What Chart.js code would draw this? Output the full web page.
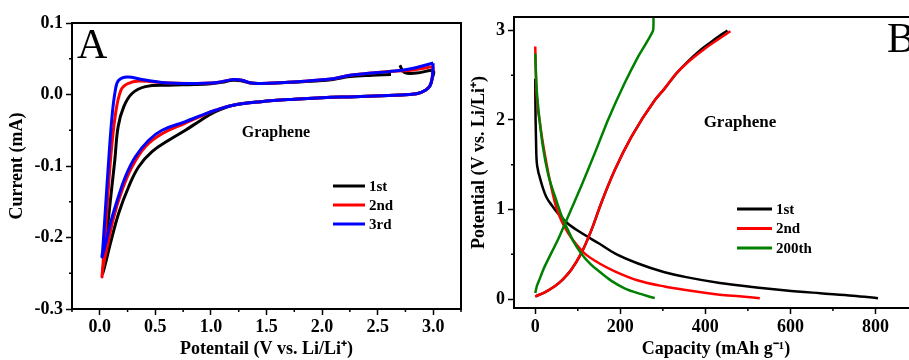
<!DOCTYPE html>
<html lang="en">
<head>
<meta charset="UTF-8">
<title>Graphene CV and charge-discharge</title>
<script src="https://cdn.jsdelivr.net/npm/chart.js@4.4.1/dist/chart.umd.min.js"></script>
<style>
    body { margin: 0; width: 909px; height: 360px; overflow: hidden; position: relative; background: #fff; }
    canvas { position: absolute; top: 0; }
    #cvChart { left: 0; }
    #gcdChart { left: 465px; }
</style>
</head>
<body>
<canvas id="cvChart" width="470" height="360"></canvas>
<canvas id="gcdChart" width="462" height="360"></canvas>

<script>
// ---- panel A : cyclic voltammetry (potential V, current mA) ----
const cycleLabelsA = ['1st', '2nd', '3rd'];
const cycleColorsA = ['#000000', '#ff0000', '#0000ff'];

const cv1Potential = [2.70, 2.74, 2.85, 3.00, 2.99, 2.97, 2.93, 2.85, 2.65, 2.30, 2.00, 1.75, 1.45, 1.20, 1.04, 0.90, 0.77, 0.62, 0.47, 0.35, 0.26, 0.17, 0.096, 0.045, 0.025,
    0.04, 0.08, 0.135, 0.165, 0.216, 0.29, 0.41, 0.62, 0.85, 1.00, 1.10, 1.20, 1.28, 1.36, 1.45, 1.70, 1.95, 2.10, 2.25, 2.45, 2.62];
const cv1Current = [0.041, 0.031, 0.030, 0.033, 0.022, 0.012, 0.006, 0.001, -0.001, -0.003, -0.0045, -0.0065, -0.010, -0.015, -0.024, -0.037, -0.050, -0.064, -0.080, -0.101, -0.129, -0.166, -0.208, -0.240, -0.250,
    -0.232, -0.170, -0.092, -0.045, -0.017, 0.0014, 0.011, 0.013, 0.014, 0.0152, 0.017, 0.020, 0.019, 0.016, 0.0155, 0.017, 0.019, 0.021, 0.025, 0.027, 0.028];

const cv2Potential = [3.00, 2.99, 2.97, 2.93, 2.85, 2.65, 2.30, 2.00, 1.75, 1.45, 1.20, 1.04, 0.90, 0.77, 0.56, 0.41, 0.29, 0.20, 0.126, 0.067, 0.03, 0.02,
    0.03, 0.06, 0.096, 0.14, 0.19, 0.25, 0.35, 0.62, 0.85, 1.00, 1.10, 1.20, 1.28, 1.36, 1.45, 1.70, 1.95, 2.10, 2.25, 2.45, 2.60, 2.80, 3.00];
const cv2Current = [0.039, 0.022, 0.012, 0.006, 0.001, -0.001, -0.003, -0.0045, -0.0065, -0.010, -0.015, -0.022, -0.031, -0.040, -0.055, -0.073, -0.101, -0.134, -0.171, -0.213, -0.241, -0.255,
    -0.235, -0.170, -0.092, -0.029, 0.006, 0.015, 0.019, 0.016, 0.0155, 0.016, 0.018, 0.021, 0.020, 0.016, 0.0155, 0.017, 0.020, 0.022, 0.027, 0.030, 0.032, 0.034, 0.039];

const cv3Potential = [3.00, 2.99, 2.97, 2.93, 2.85, 2.65, 2.30, 2.00, 1.75, 1.45, 1.20, 1.04, 0.90, 0.77, 0.56, 0.44, 0.32, 0.23, 0.157, 0.096, 0.045, 0.02,
    0.025, 0.05, 0.08, 0.11, 0.14, 0.17, 0.25, 0.38, 0.62, 0.85, 1.00, 1.10, 1.20, 1.28, 1.36, 1.45, 1.70, 1.95, 2.10, 2.25, 2.45, 2.60, 2.80, 3.00];
const cv3Current = [0.044, 0.022, 0.012, 0.006, 0.001, -0.001, -0.003, -0.0045, -0.0065, -0.010, -0.015, -0.022, -0.030, -0.038, -0.050, -0.064, -0.087, -0.115, -0.148, -0.180, -0.213, -0.227,
    -0.220, -0.162, -0.092, -0.031, 0.006, 0.020, 0.0246, 0.021, 0.016, 0.0155, 0.016, 0.018, 0.021, 0.020, 0.016, 0.0155, 0.017, 0.020, 0.022, 0.027, 0.030, 0.032, 0.036, 0.044];

const xTicksA = [0, 0.5, 1.0, 1.5, 2.0, 2.5, 3.0];
const xMinorA = [-0.25, 0.25, 0.75, 1.25, 1.75, 2.25, 2.75, 3.25];
const yTicksA = [-0.3, -0.2, -0.1, 0.0, 0.1];
const yMinorA = [-0.25, -0.15, -0.05, 0.05];

// ---- panel B : charge / discharge (capacity mAh/g, potential V) ----
const cycleLabelsB = ['1st', '2nd', '200th'];
const cycleColorsB = ['#000000', '#ff0000', '#008000'];

const dis1Capacity = [0, 0.3, 0.8, 2.4, 6, 10, 18, 26, 40, 53, 75, 108, 150, 187, 240, 304, 355, 434, 520, 590, 670, 747, 806];
const dis1Potential = [2.46, 2.20, 2.00, 1.63, 1.45, 1.37, 1.24, 1.14, 1.04, 0.96, 0.85, 0.74, 0.62, 0.51, 0.40, 0.30, 0.245, 0.18, 0.13, 0.096, 0.065, 0.037, 0.01];
const chg1Capacity = [0, 20, 45, 65, 85, 108, 132, 155, 187, 226, 281, 304, 332, 358, 388, 422, 452];
const chg1Potential = [0.03, 0.07, 0.14, 0.22, 0.33, 0.51, 0.77, 1.07, 1.44, 1.81, 2.22, 2.35, 2.52, 2.65, 2.78, 2.90, 3.00];

const dis2Capacity = [0, 1, 2.4, 5, 10, 16, 22, 34, 49, 62, 77, 95, 116, 150, 187, 240, 304, 355, 434, 480, 528];
const dis2Potential = [2.82, 2.60, 2.37, 2.17, 2.00, 1.80, 1.63, 1.33, 1.03, 0.87, 0.74, 0.62, 0.51, 0.40, 0.31, 0.21, 0.14, 0.10, 0.048, 0.03, 0.01];
const chg2Capacity = [0, 20, 45, 65, 85, 108, 132, 155, 187, 226, 281, 304, 332, 360, 394, 430, 459];
const chg2Potential = [0.03, 0.07, 0.14, 0.22, 0.33, 0.51, 0.77, 1.07, 1.44, 1.81, 2.22, 2.35, 2.52, 2.65, 2.78, 2.90, 2.99];

const dis200Capacity = [0, 2, 6, 12, 18, 30, 49, 62, 77, 90, 108, 130, 155, 180, 210, 245, 281];
const dis200Potential = [2.74, 2.45, 2.19, 1.92, 1.70, 1.40, 1.11, 0.93, 0.77, 0.64, 0.51, 0.39, 0.29, 0.20, 0.12, 0.06, 0.01];
const chg200Capacity = [0, 4, 10, 20, 30, 53, 77, 108, 140, 171, 210, 241, 277, 277];
const chg200Potential = [0.067, 0.15, 0.22, 0.34, 0.44, 0.66, 0.92, 1.26, 1.63, 2.00, 2.41, 2.70, 3.00, 3.30];

const xTicksB = [0, 200, 400, 600, 800];
const xMinorB = [100, 300, 500, 700];
const yTicksB = [0, 1, 2, 3];
const yMinorB = [0.5, 1.5, 2.5];

function pts(xs, ys) {
    return xs.map((x, i) => ({ x: x, y: ys[i] }));
}

// smooth: 'monotone' or a bezier tension
function line(label, xs, ys, color, order, width, smooth) {
    const ds = {
        label: label,
        data: pts(xs, ys),
        showLine: true,
        borderColor: color,
        backgroundColor: color,
        borderWidth: width,
        pointRadius: 0,
        order: order
    };
    if (smooth === 'monotone') {
        ds.cubicInterpolationMode = 'monotone';
    } else {
        ds.tension = smooth;
    }
    return ds;
}

Chart.defaults.font.family = '"Liberation Serif", "Times New Roman", serif';
Chart.defaults.font.weight = 'bold';
Chart.defaults.font.size = 18;
Chart.defaults.color = '#000';

// frame, minor ticks, panel letter, note and legend
const decor = {
    id: 'decor',
    afterDraw(chart, args, o) {
        const ctx = chart.ctx;
        const a = chart.chartArea;
        const sx = chart.scales.x, sy = chart.scales.y;
        ctx.save();
        ctx.strokeStyle = '#000';
        ctx.lineWidth = 2;
        ctx.strokeRect(a.left, a.top, a.right - a.left, a.bottom - a.top);

        ctx.lineWidth = 1.5;
        ctx.beginPath();
        (o.minorX || []).forEach(v => {
            const x = sx.getPixelForValue(v);
            ctx.moveTo(x, a.bottom);
            ctx.lineTo(x, a.bottom + 3);
        });
        (o.minorY || []).forEach(v => {
            const y = sy.getPixelForValue(v);
            ctx.moveTo(a.left, y);
            ctx.lineTo(a.left - 3, y);
        });
        ctx.stroke();

        ctx.fillStyle = '#000';
        ctx.font = 'normal 42px "Liberation Serif"';
        ctx.textAlign = 'left';
        ctx.textBaseline = 'alphabetic';
        ctx.fillText(o.letter, o.letterX, o.letterY);

        ctx.font = 'bold ' + o.noteSize + 'px "Liberation Serif"';
        ctx.textAlign = 'center';
        ctx.textBaseline = 'middle';
        ctx.fillText(o.note, o.noteX, o.noteY);

        ctx.textAlign = 'left';
        ctx.font = 'bold 15px "Liberation Serif"';
        o.labels.forEach((lab, i) => {
            const y = o.legY + i * o.legGap;
            ctx.strokeStyle = o.colors[i];
            ctx.lineWidth = 3;
            ctx.beginPath();
            ctx.moveTo(o.legX, y);
            ctx.lineTo(o.legX + o.legLen, y);
            ctx.stroke();
            ctx.fillText(lab, o.legX + o.legLen + 4, y + 1);
        });
        ctx.restore();
    }
};

function scale(min, max, ticks, fmt, fit, horizontal, title, titlePad, tickPad) {
    return {
        type: 'linear',
        min: min,
        max: max,
        afterBuildTicks: s => { s.ticks = ticks.map(v => ({ value: v })); },
        afterFit: s => { if (horizontal) s.height = fit; else s.width = fit; },
        ticks: { padding: tickPad, maxRotation: 0, autoSkip: false, callback: fmt },
        grid: { drawOnChartArea: false, tickLength: 6, tickWidth: 1.5, tickColor: '#000' },
        border: { display: false },
        title: { display: true, text: title, padding: titlePad }
    };
}

new Chart(document.getElementById('cvChart'), {
    type: 'scatter',
    data: {
        datasets: [
            line(cycleLabelsA[0], cv1Potential, cv1Current, cycleColorsA[0], 2, 3, 0.4),
            line(cycleLabelsA[1], cv2Potential, cv2Current, cycleColorsA[1], 1, 3, 0.4),
            line(cycleLabelsA[2], cv3Potential, cv3Current, cycleColorsA[2], 0, 3, 0.4)
        ]
    },
    options: {
        responsive: false,
        animation: false,
        layout: { padding: { top: 23, right: 9, left: 0, bottom: 0 } },
        scales: {
            x: scale(-0.25, 3.25, xTicksA, v => v.toFixed(1), 51, true, 'Potentail (V vs. Li/Li\u207A)', { top: 0, bottom: 0 }, 2),
            y: scale(-0.3, 0.1, yTicksA, v => v.toFixed(1), 72, false, 'Current (mA)', { top: 7, bottom: 0 }, 3)
        },
        plugins: {
            legend: { display: false },
            tooltip: { enabled: false },
            decor: {
                minorX: xMinorA, minorY: yMinorA,
                letter: 'A', letterX: 77, letterY: 58,
                note: 'Graphene', noteSize: 16, noteX: 276, noteY: 133,
                labels: cycleLabelsA, colors: cycleColorsA,
                legX: 333, legLen: 32, legY: 186, legGap: 19
            }
        }
    },
    plugins: [decor]
});

new Chart(document.getElementById('gcdChart'), {
    type: 'scatter',
    data: {
        datasets: [
            line(cycleLabelsB[0], dis1Capacity, dis1Potential, cycleColorsB[0], 5, 2.5, 'monotone'),
            line(cycleLabelsB[0], chg1Capacity, chg1Potential, cycleColorsB[0], 4, 2.5, 'monotone'),
            line(cycleLabelsB[1], dis2Capacity, dis2Potential, cycleColorsB[1], 3, 2.5, 'monotone'),
            line(cycleLabelsB[1], chg2Capacity, chg2Potential, cycleColorsB[1], 2, 2.5, 'monotone'),
            line(cycleLabelsB[2], dis200Capacity, dis200Potential, cycleColorsB[2], 1, 2.5, 'monotone'),
            line(cycleLabelsB[2], chg200Capacity, chg200Potential, cycleColorsB[2], 0, 2.5, 0.15)
        ]
    },
    options: {
        responsive: false,
        animation: false,
        layout: { padding: { top: 17, right: 9, left: 0, bottom: 0 } },
        scales: {
            x: scale(-50, 900, xTicksB, v => String(v), 52, true, 'Capacity (mAh g\u207B\u00B9)', { top: 0, bottom: 0 }, 3),
            y: scale(-0.1, 3.15, yTicksB, v => String(v), 49, false, 'Potential (V vs. Li/Li\u207A)', { top: 4, bottom: 0 }, 3)
        },
        plugins: {
            legend: { display: false },
            tooltip: { enabled: false },
            decor: {
                minorX: xMinorB, minorY: yMinorB,
                letter: 'B', letterX: 422, letterY: 52,
                note: 'Graphene', noteSize: 17, noteX: 275, noteY: 123,
                labels: cycleLabelsB, colors: cycleColorsB,
                legX: 272, legLen: 35, legY: 209, legGap: 19.5
            }
        }
    },
    plugins: [decor]
});
</script>
</body>
</html>
